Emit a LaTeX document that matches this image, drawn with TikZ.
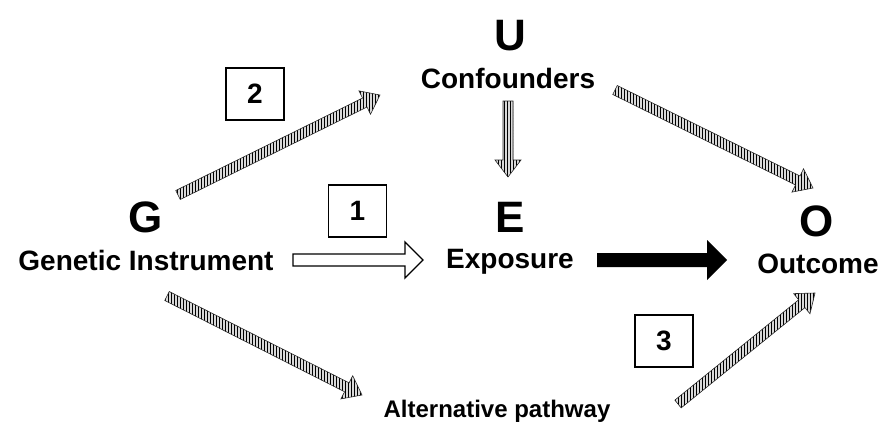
\documentclass[tikz,border=0pt]{standalone}
\usepackage{fontspec}
\setmainfont{Liberation Sans}
\usetikzlibrary{calc, patterns.meta}

\begin{document}
\begin{tikzpicture}[x=1pt, y=-1pt,
    letter/.style={anchor=base, inner sep=0pt, font=\fontsize{44}{48}\selectfont\bfseries},
    caption/.style={anchor=base, inner sep=0pt, font=\fontsize{28}{32}\selectfont\bfseries},
    numbox/.style={draw, line width=1.2pt, minimum width=58pt, minimum height=52pt, inner sep=0pt, font=\fontsize{28}{30}\selectfont\bfseries},
    blockarrow/.style n args={3}{to path={
        let \p1=(\tikztostart), \p2=(\tikztotarget), \p3=($(\p2)!#3!(\p1)$) in
        ($(\p1)!#1!90:(\p2)$) -- ($(\p3)!#1!90:(\p2)$) -- ($(\p3)!#2!90:(\p2)$) -- (\p2)
        -- ($(\p3)!#2!-90:(\p2)$) -- ($(\p3)!#1!-90:(\p2)$) -- ($(\p1)!#1!-90:(\p2)$) -- cycle}},
    hatcharrow/.style={blockarrow={5pt}{13pt}{17pt}, draw=black!85, line width=0.6pt,
        preaction={fill=gray!30}, pattern={Lines[angle=90, distance=3pt, line width=0.9pt]}},
    openarrow/.style={blockarrow={6pt}{18pt}{18pt}, draw, line width=1.3pt, fill=white},
    boldarrow/.style={blockarrow={7pt}{20pt}{20pt}, fill=black},
  ]
  \useasboundingbox (0,0) rectangle (882,426);

  % variables
  \node[letter] (G) at (146,232) {G};
  \node[caption] (gen) at (146,270) {Genetic Instrument};
  \node[letter] (U) at (510,50) {U};
  \node[caption] (conf) at (508,88) {Confounders};
  \node[letter] (E) at (510,232) {E};
  \node[caption] (expo) at (510,268) {Exposure};
  \node[letter] (O) at (817,236) {O};
  \node[caption] (outc) at (818,273) {Outcome};
  \node[anchor=base, inner sep=0pt, font=\fontsize{24}{28}\selectfont\bfseries] (alt) at (497,417) {Alternative pathway};

  % assumption numbers
  \node[numbox] (n1) at (357.5,211) {1};
  \node[numbox] (n2) at (255,94) {2};
  \node[numbox] (n3) at (664,341) {3};

  % arrow ends
  \coordinate (gu-a) at (178,195);  \coordinate (gu-b) at (380,95);
  \coordinate (ue-a) at (508,101);  \coordinate (ue-b) at (508,177);
  \coordinate (uo-a) at (615,90);   \coordinate (uo-b) at (813,188);
  \coordinate (ga-a) at (167,296);  \coordinate (ga-b) at (362,395);
  \coordinate (ao-a) at (678,404);  \coordinate (ao-b) at (815,293);
  \coordinate (ge-a) at (293,260);  \coordinate (ge-b) at (423,260);
  \coordinate (eo-a) at (597,260);  \coordinate (eo-b) at (727,260);

  % hatched paths
  \path[hatcharrow] (gu-a) to (gu-b);
  \path[hatcharrow] (ue-a) to (ue-b);
  \path[hatcharrow] (uo-a) to (uo-b);
  \path[hatcharrow] (ga-a) to (ga-b);
  \path[hatcharrow] (ao-a) to (ao-b);

  % instrument and causal effect
  \path[openarrow] (ge-a) to (ge-b);
  \path[boldarrow] (eo-a) to (eo-b);
\end{tikzpicture}
\end{document}
